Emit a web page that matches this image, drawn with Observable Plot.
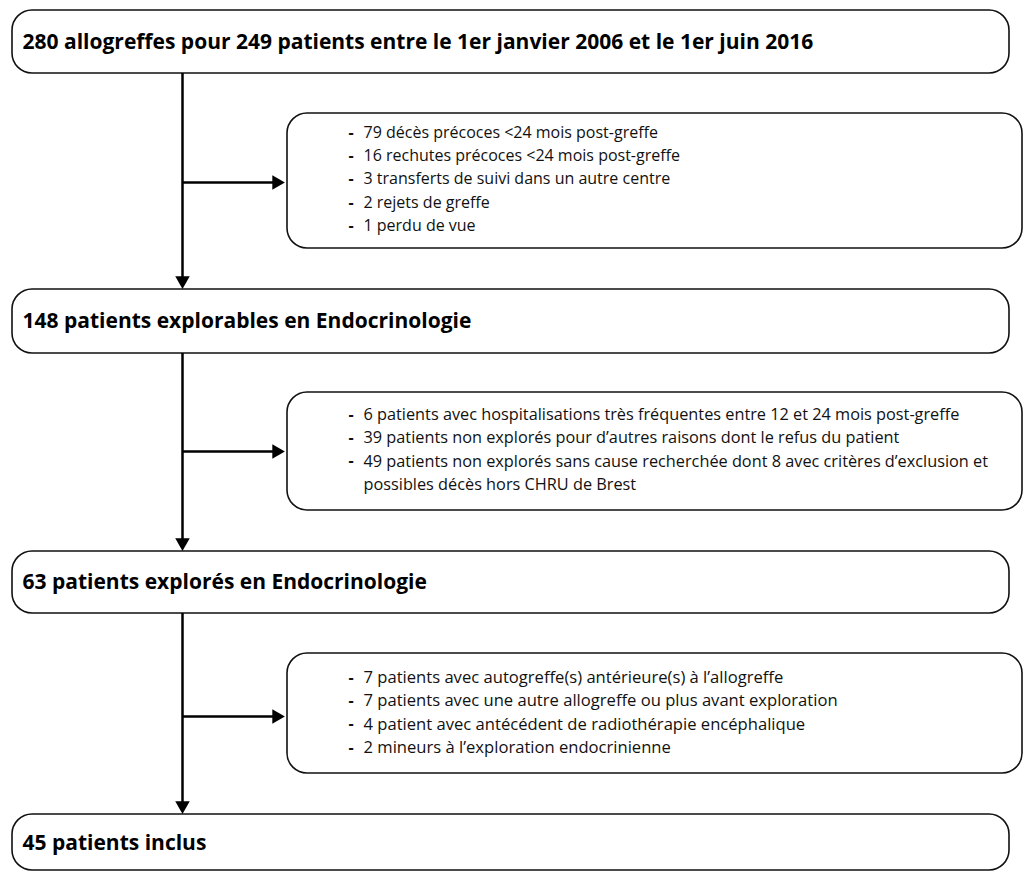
<!DOCTYPE html>
<html>
<head>
<meta charset="utf-8">
<script src="https://cdn.jsdelivr.net/npm/d3@7"></script>
<script src="https://cdn.jsdelivr.net/npm/@observablehq/plot@0.6"></script>
<style>
  html, body { margin: 0; padding: 0; background: #fff; }
  #chart svg { display: block; }
</style>
</head>
<body>
<div id="chart"></div>
<script>
// ---- Data (text content of the flowchart) ----
const stages = [
  "280 allogreffes pour 249 patients entre le 1er janvier 2006 et le 1er juin 2016",
  "148 patients explorables en Endocrinologie",
  "63 patients explorés en Endocrinologie",
  "45 patients inclus"
];
const exclusions1 = [
  "79 décès précoces <24 mois post-greffe",
  "16 rechutes précoces <24 mois post-greffe",
  "3 transferts de suivi dans un autre centre",
  "2 rejets de greffe",
  "1 perdu de vue"
];
const exclusions2 = [
  "6 patients avec hospitalisations très fréquentes entre 12 et 24 mois post-greffe",
  "39 patients non explorés pour d’autres raisons dont le refus du patient",
  "49 patients non explorés sans cause recherchée dont 8 avec critères d’exclusion et",
  "possibles décès hors CHRU de Brest"
];
const bullets2 = [true, true, true, false];
const exclusions3 = [
  "7 patients avec autogreffe(s) antérieure(s) à l’allogreffe",
  "7 patients avec une autre allogreffe ou plus avant exploration",
  "4 patient avec antécédent de radiothérapie encéphalique",
  "2 mineurs à l’exploration endocrinienne"
];

// ---- Layout ----
const W = 1025, H = 872;
const mainX = [12, 1009];
const mainY = [[10, 73], [289, 353], [551, 613], [814, 870]];
const mainTextY = [42, 321, 582, 843];
const sideX = [287, 1022];
const sideY = [[113, 248], [392, 510], [653, 773]];
const spineX = 182;
const branchY = [182, 451, 716];
const listFirstY = [132, 414, 677];
const lineStep = 23.4;
const dashX = [348, 348, 348];
const textX = [363, 363, 363];
const listFont = [16, 16.3, 16.6];

const mainBoxes = stages.map((s, i) => ({x1: mainX[0], x2: mainX[1], y1: mainY[i][0], y2: mainY[i][1], label: s, ty: mainTextY[i]}));
const sideBoxes = sideY.map(([a, b]) => ({x1: sideX[0], x2: sideX[1], y1: a, y2: b}));

const lists = [exclusions1, exclusions2, exclusions3];
const bulletsAll = [exclusions1.map(() => true), bullets2, exclusions3.map(() => true)];
const listRows = [];
lists.forEach((arr, k) => arr.forEach((t, j) => listRows.push({
  text: t, bullet: bulletsAll[k][j], x: textX[k], dx: dashX[k], y: listFirstY[k] + j * lineStep, k
})));

const spines = [0, 1, 2].map(i => ({x: spineX, y1: mainY[i][1], y2: mainY[i + 1][0] - 4}));
const branches = branchY.map(y => ({y, x1: spineX, x2: sideX[0] - 6}));
const downHeads = [0, 1, 2].map(i => ({x: spineX, y: mainY[i + 1][0] - 9}));
const rightHeads = branchY.map(y => ({x: sideX[0] - 11, y}));

const font = "'Open Sans', Lato, sans-serif";

const listMarks = [0, 1, 2].map(k => Plot.text(listRows.filter(d => d.k === k), {
  x: "x", y: "y", text: "text", textAnchor: "start", lineAnchor: "middle",
  fontSize: listFont[k], fontFamily: font, fill: "#111"
}));

const chart = Plot.plot({
  width: W,
  height: H,
  margin: 0,
  x: {domain: [0, W], range: [0, W], axis: null},
  y: {domain: [0, H], range: [0, H], axis: null},
  marks: [
    Plot.rect(mainBoxes, {x1: "x1", x2: "x2", y1: "y1", y2: "y2", rx: 20, fill: "white", stroke: "#111", strokeWidth: 1.6}),
    Plot.rect(sideBoxes, {x1: "x1", x2: "x2", y1: "y1", y2: "y2", rx: 20, fill: "white", stroke: "#111", strokeWidth: 1.6}),
    Plot.ruleX(spines, {x: "x", y1: "y1", y2: "y2", stroke: "#000", strokeWidth: 2.5}),
    Plot.ruleY(branches, {y: "y", x1: "x1", x2: "x2", stroke: "#000", strokeWidth: 2.5}),
    Plot.dot(downHeads, {x: "x", y: "y", symbol: "triangle", r: 5.4, fill: "#000", stroke: "none", rotate: 180}),
    Plot.dot(rightHeads, {x: "x", y: "y", symbol: "triangle", r: 5.4, fill: "#000", stroke: "none", rotate: 90}),
    Plot.text(mainBoxes, {x: mainX[0] + 10, y: "ty", text: "label", textAnchor: "start", lineAnchor: "middle",
      fontSize: 21, fontWeight: "bold", fontFamily: font, fill: "#000"}),
    Plot.text(listRows.filter(d => d.bullet), {x: "dx", y: "y", text: () => "-", textAnchor: "start", lineAnchor: "middle",
      fontSize: 16, fontWeight: "bold", fontFamily: font, fill: "#111"}),
    ...listMarks
  ]
});
document.getElementById("chart").appendChild(chart);
</script>
</body>
</html>
